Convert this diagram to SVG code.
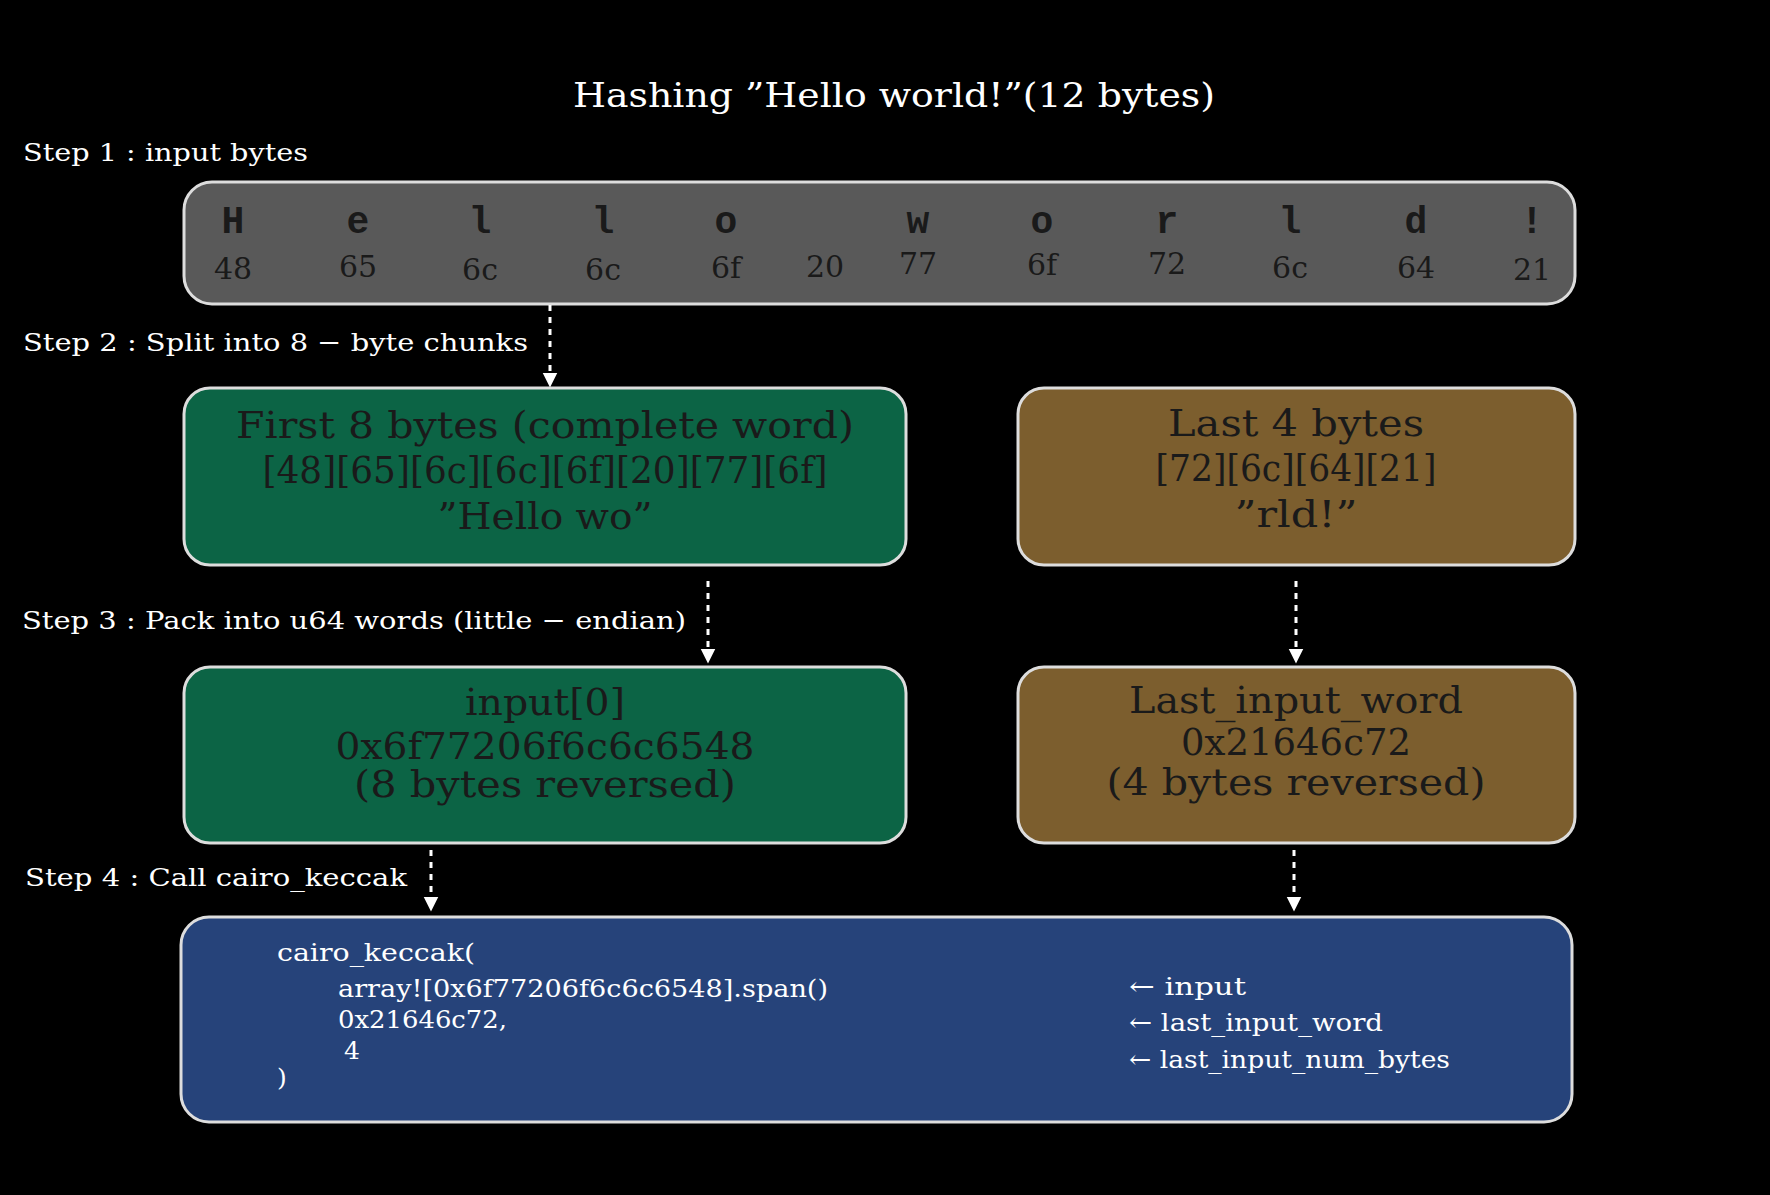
<svg xmlns="http://www.w3.org/2000/svg" width="1770" height="1195" viewBox="0 0 1770 1195">
<defs>
<marker id="ah" viewBox="0 0 10 10" refX="9" refY="5" markerWidth="5" markerHeight="6" orient="auto-start-reverse" markerUnits="strokeWidth">
<path d="M0,0 L10,5 L0,10 z" fill="#ffffff"/>
</marker>
<style>
.t{font-family:"DejaVu Serif","Liberation Serif",serif;fill:#ffffff}
.step{font-size:25px}
.ch{font-family:"Liberation Mono","DejaVu Sans Mono",monospace;font-size:38px;fill:#1a1a1a;font-weight:bold;text-anchor:middle}
.hx{font-family:"DejaVu Serif","Liberation Serif",serif;font-size:30px;fill:#1a1a1a;text-anchor:middle}
.bx{font-family:"DejaVu Serif","Liberation Serif",serif;font-size:38px;fill:#1a1a1a;text-anchor:middle}
.code{font-family:"DejaVu Serif","Liberation Serif",serif;font-size:25px;fill:#ffffff}
.box{stroke:#dddddd;stroke-width:3}
.conn{stroke:#ffffff;stroke-width:3;stroke-dasharray:6,6;fill:none;marker-end:url(#ah)}
</style>
</defs>
<rect width="1770" height="1195" fill="#000000"/>
<text class="t" x="573" y="107" font-size="34" textLength="642" lengthAdjust="spacingAndGlyphs">Hashing ”Hello world!”(12 bytes)</text>
<text class="t step" x="23" y="161" textLength="285" lengthAdjust="spacingAndGlyphs">Step 1 : input bytes</text>
<text class="t step" x="23" y="351" textLength="505" lengthAdjust="spacingAndGlyphs">Step 2 : Split into 8 − byte chunks</text>
<text class="t step" x="22" y="629" textLength="664" lengthAdjust="spacingAndGlyphs">Step 3 : Pack into u64 words (little − endian)</text>
<text class="t step" x="25" y="886" textLength="382" lengthAdjust="spacingAndGlyphs">Step 4 : Call cairo_keccak</text>

<g id="input-bytes">
<rect class="box" x="184" y="182" width="1391" height="122" rx="28" fill="#595959"/>
<text class="ch" x="233" y="233">H</text><text class="hx" x="233" y="279">48</text>
<text class="ch" x="358" y="233">e</text><text class="hx" x="358" y="277">65</text>
<text class="ch" x="480" y="233">l</text><text class="hx" x="480" y="280">6c</text>
<text class="ch" x="603" y="233">l</text><text class="hx" x="603" y="280">6c</text>
<text class="ch" x="726" y="233">o</text><text class="hx" x="726" y="278">6f</text>
<text class="hx" x="825" y="277">20</text>
<text class="ch" x="918" y="233">w</text><text class="hx" x="918" y="274">77</text>
<text class="ch" x="1042" y="233">o</text><text class="hx" x="1042" y="275">6f</text>
<text class="ch" x="1167" y="233">r</text><text class="hx" x="1167" y="274">72</text>
<text class="ch" x="1290" y="233">l</text><text class="hx" x="1290" y="278">6c</text>
<text class="ch" x="1416" y="233">d</text><text class="hx" x="1416" y="278">64</text>
<text class="ch" x="1532" y="233">!</text><text class="hx" x="1532" y="280">21</text>
</g>

<g id="first-8">
<rect class="box" x="184" y="388" width="722" height="177" rx="26" fill="#0c6445"/>
<text class="bx" x="545" y="438" textLength="618" lengthAdjust="spacingAndGlyphs">First 8 bytes (complete word)</text>
<text class="bx" x="545" y="483" textLength="565" lengthAdjust="spacingAndGlyphs">[48][65][6c][6c][6f][20][77][6f]</text>
<text class="bx" x="545" y="529" textLength="215" lengthAdjust="spacingAndGlyphs">”Hello wo”</text>
</g>
<g id="last-4">
<rect class="box" x="1018" y="388" width="557" height="177" rx="26" fill="#7c5e2e"/>
<text class="bx" x="1296" y="436" textLength="256" lengthAdjust="spacingAndGlyphs">Last 4 bytes</text>
<text class="bx" x="1296" y="481" textLength="281" lengthAdjust="spacingAndGlyphs">[72][6c][64][21]</text>
<text class="bx" x="1296" y="527" textLength="123" lengthAdjust="spacingAndGlyphs">”rld!”</text>
</g>
<g id="input0">
<rect class="box" x="184" y="667" width="722" height="176" rx="26" fill="#0c6445"/>
<text class="bx" x="545" y="715" textLength="160" lengthAdjust="spacingAndGlyphs">input[0]</text>
<text class="bx" x="545" y="759" textLength="419" lengthAdjust="spacingAndGlyphs">0x6f77206f6c6c6548</text>
<text class="bx" x="545" y="797" textLength="382" lengthAdjust="spacingAndGlyphs">(8 bytes reversed)</text>
</g>
<g id="last-word">
<rect class="box" x="1018" y="667" width="557" height="176" rx="26" fill="#7c5e2e"/>
<text class="bx" x="1296" y="713" textLength="334" lengthAdjust="spacingAndGlyphs">Last_input_word</text>
<text class="bx" x="1296" y="755" textLength="230" lengthAdjust="spacingAndGlyphs">0x21646c72</text>
<text class="bx" x="1296" y="795" textLength="379" lengthAdjust="spacingAndGlyphs">(4 bytes reversed)</text>
</g>
<g id="keccak-call">
<rect class="box" x="181" y="917" width="1391" height="205" rx="28" fill="#26437a"/>
<text class="code" x="277" y="961" textLength="198" lengthAdjust="spacingAndGlyphs">cairo_keccak(</text>
<text class="code" x="338" y="997" textLength="490" lengthAdjust="spacingAndGlyphs">array![0x6f77206f6c6c6548].span()</text>
<text class="code" x="338" y="1028" textLength="169" lengthAdjust="spacingAndGlyphs">0x21646c72,</text>
<text class="code" x="344" y="1059">4</text>
<text class="code" x="277" y="1086">)</text>
<text class="code" x="1129" y="995" textLength="117" lengthAdjust="spacingAndGlyphs">← input</text>
<text class="code" x="1129" y="1031" textLength="254" lengthAdjust="spacingAndGlyphs">← last_input_word</text>
<text class="code" x="1129" y="1068" textLength="321" lengthAdjust="spacingAndGlyphs">← last_input_num_bytes</text>
</g>
<g id="connectors">
<line class="conn" x1="550" y1="305" x2="550" y2="386"/>
<line class="conn" x1="708" y1="581" x2="708" y2="662"/>
<line class="conn" x1="1296" y1="581" x2="1296" y2="662"/>
<line class="conn" x1="431" y1="850" x2="431" y2="910"/>
<line class="conn" x1="1294" y1="850" x2="1294" y2="910"/>
</g>
</svg>
